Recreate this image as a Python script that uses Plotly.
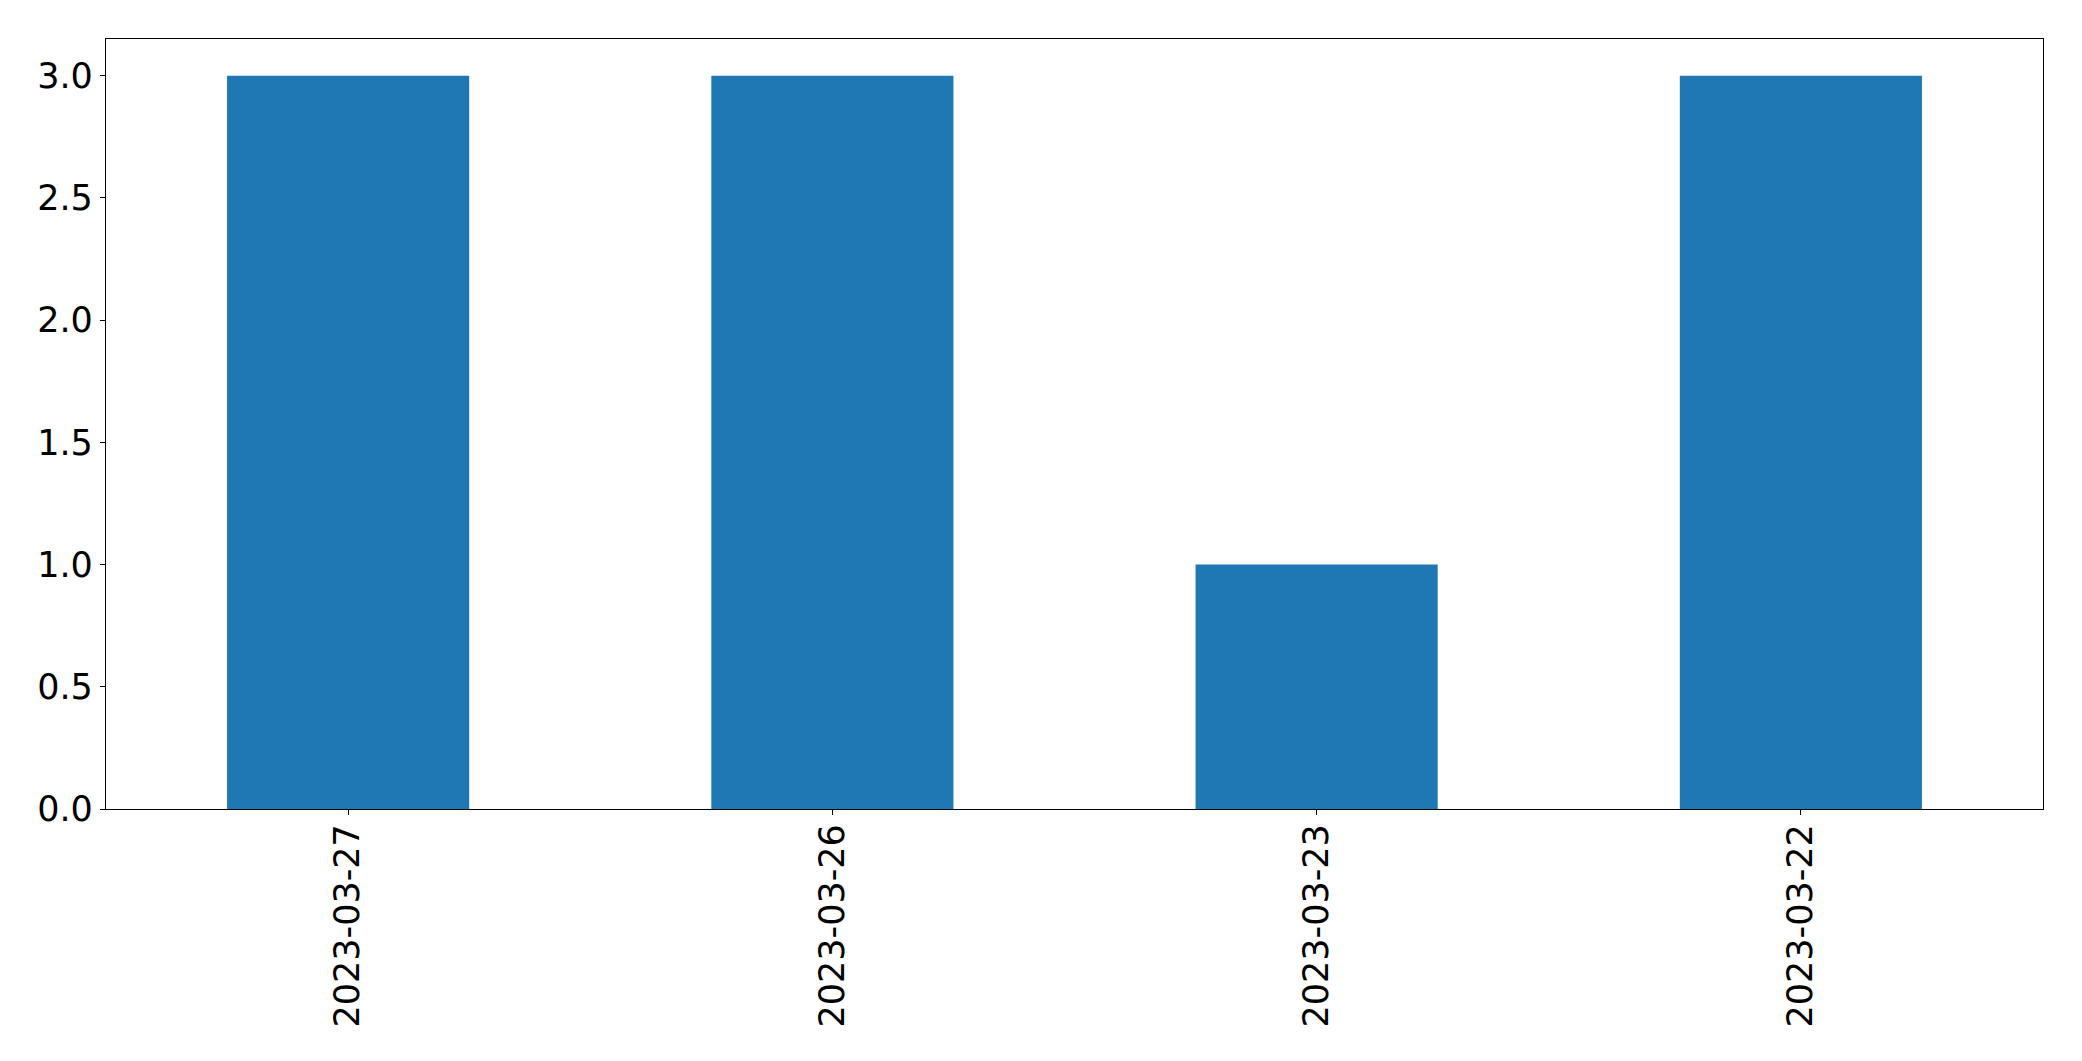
import plotly.graph_objects as go

dates = ["2023-03-27", "2023-03-26", "2023-03-23", "2023-03-22"]
counts = [3, 3, 1, 3]
y_ticks = [0.0, 0.5, 1.0, 1.5, 2.0, 2.5, 3.0]
y_tick_labels = ["0.0", "0.5", "1.0", "1.5", "2.0", "2.5", "3.0"]

fig = go.Figure()
fig.add_trace(go.Bar(x=list(range(len(dates))), y=counts, width=0.5,
                     marker=dict(color="#1f77b4", line=dict(width=0))))

font = dict(family="DejaVu Sans", size=35, color="black")
fig.update_layout(
    width=2074, height=1053,
    margin=dict(l=98, r=39, t=31, b=252, autoexpand=False),
    paper_bgcolor="white", plot_bgcolor="white",
    showlegend=False,
    font=font,
)
fig.update_xaxes(
    range=[-0.5, 3.5], tickmode="array", tickvals=list(range(len(dates))),
    ticktext=dates, tickangle=-90, ticks="outside", ticklen=5, tickwidth=1.3,
    tickcolor="black", showline=True, linecolor="black", linewidth=1.3,
    mirror=True, showgrid=False, zeroline=False, tickfont=font,
    ticklabelstandoff=-5,
)
fig.update_yaxes(
    range=[0, 3.15], tickmode="array", tickvals=y_ticks, ticktext=y_tick_labels,
    ticks="outside", ticklen=5, tickwidth=1.3, tickcolor="black",
    showline=True, linecolor="black", linewidth=1.3, mirror=True,
    showgrid=False, zeroline=False, tickfont=font,
)
fig.write_html("out.html")
